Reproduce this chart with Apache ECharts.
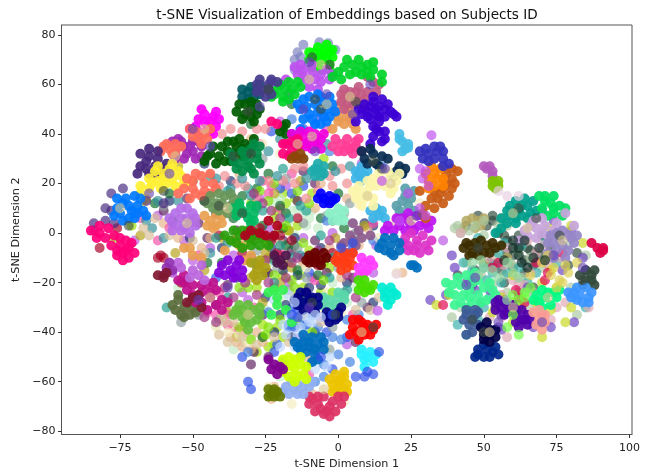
<!DOCTYPE html>
<html><head><meta charset="utf-8">
<style>html,body{margin:0;background:#fff}#c{width:649px;height:472px}</style>
<script src="https://cdn.jsdelivr.net/npm/echarts@6/dist/echarts.min.js"></script></head>
<body><div id="c"></div>
<script>
const xTicks=[-75,-50,-25,0,25,50,75,100];
const yTicks=[-80,-60,-40,-20,0,20,40,60,80];
// loose background points
const bgOrchid=[[-44,-6],[-36,-9],[-24,2],[-12,-2],[-2,0],[5,-8],[12,-16],[-17,-20],[-6,-34],[-31,-27],[20,4],[8,28],[-20,45],[-62,7],[-70,-3],[-50,-11],[3,-45],[-13,-42],[13,-5],[-7,38],[-53,-3],[36,-3],[-18,19],[-27,14],[-9,-18],[-33,-24]];
const bgLime=[[-18,12],[-22,6],[-14,3],[-25,-4],[-10,-7],[-3,-14],[-19,-17],[-12,-22],[-28,-22],[-6,-24],[-35,-42],[-22,-45],[-14,-36],[-28,-48],[-21,-38],[-26,-37],[-71,3],[-77,-2],[-30,12],[-5,30],[-17,-12],[-9,16],[-32,-36],[-19,16],[-15,14],[-21,9],[-17,1],[-26,-42],[-24,-46],[-19,-42],[-8,-8],[-13,-17],[-20,2]];
const bgPale=[[-14,10],[-17,5],[-10,6],[-20,14],[-24,10],[-7,2],[-15,-8],[-13,-14],[-24,-12],[-19,-26],[-11,-38],[-4,-48],[-18,-32],[-2,-20],[6,-22],[-25,-31],[-38,-30],[-42,-37],[-33,-44],[-30,-42],[3,-28],[-36,-47],[-20,-58],[-12,-60],[-55,-22],[14,8],[-12,8],[-16,9],[-9,9],[-19,7],[-22,13],[-11,3],[-15,-1]];
const bgBlueDeep=[[-20,18],[-12,19],[-16,16],[-10,-16],[-4,-40],[-21,-45],[-19,-52],[-31,-60],[-30,-63],[-16,-30],[-14,-31],[-2,-55],[3,-42],[-9,-52],[5,-6],[-33,-50],[18,24],[-42,-18],[-6,47],[-23,41],[-12,42],[-22,-48],[-15,-38],[-17,-37],[-11,-37]];
const bgNavyish=[[-23,-6],[-28,-13],[-14,-17],[-10,-22],[-18,-29],[-20,-33],[-25,-16],[-6,-6],[-16,-42],[-22,-40],[-40,-6],[-35,-18],[-51,-2],[-42,8],[12,-28],[3,-20],[-8,-40],[-37,21],[-46,28],[-70,8],[-58,13],[-2,5],[9,4],[12,3],[-15,-2],[-19,-15],[-6,-21],[-25,-26]];
const bgPlum=[[-30,-10],[-22,-10],[-16,-7],[-8,-3],[1,-5],[5,-18],[-26,-33],[-38,-21],[-42,-29],[-30,-53],[-29,-48],[-24,-50],[-4,-16],[-45,-2],[-48,4],[-60,9],[-52,14],[-35,1],[-14,13],[-8,20],[-12,25],[10,-30],[6,-44],[-19,-3],[-24,-16],[-12,-10]];
const bgPeach=[[-60,4],[-55,-2],[-47,-6],[-44,-2],[-34,-2],[-20,-4],[-12,-12],[-3,-6],[1,-18],[-36,-38],[-32,-40],[-28,-40],[-35,-44],[-26,-44],[-22,-62],[-9,-65],[-11,-50],[7,-5],[22,-16],[-34,24],[-6,20],[-8,10],[-30,38],[3,14],[10,2],[-37,-42],[-33,-46],[-23,-67],[-30,-47]];
const bgGold=[[-40,-2],[-32,-5],[-25,-8],[-17,1],[-6,-11],[-1,-2],[-22,-22],[-30,-18],[-35,-32],[-26,-28],[-15,-26],[-9,-30],[-46,-15],[-38,-32],[9,3],[-50,5],[-68,-1],[-22,16],[-13,21],[-55,27],[-56,-8],[-24,-10],[-20,-20],[-16,-14]];
const bgPink=[[-68,6],[-62,-3],[-58,2],[-48,-9],[-41,-24],[-38,-37],[-34,-39],[-29,-30],[-20,-8],[-8,-19],[-1,-30],[2,-12],[-20,10],[-24,16],[-26,21],[-16,24],[-3,12],[-48,-31],[-45,-32],[-10,-57],[5,-33],[12,4],[-4,42],[4,46],[-27,36],[-42,-33],[-38,-33],[-28,10],[-23,19]];
const bgDarkGreen=[[-33,15],[-28,18],[-24,24],[-22,-1],[-26,3],[-18,-5],[-10,-10],[-4,-10],[-36,6],[-46,13],[-50,21],[-58,16],[-63,12],[-18,8],[-7,-17],[-12,-27],[-40,-12],[-26,-42],[-14,-15],[-6,6],[0,16],[-2,27],[-16,52],[-30,44],[2,2],[-45,-12],[-20,11],[-23,-2],[-15,-5],[-19,2]];
const bgGrey=[[-30,5],[-14,-6],[-28,-7],[-12,4],[-4,7],[2,8],[6,0],[0,-14],[-5,-28],[-3,-47],[-8,-47],[-2,-38],[2,-24],[8,-28],[-48,-33],[-41,-35],[-54,-36],[-13,-34],[-11,-18],[4,12],[13,10],[-26,30],[-18,22],[-60,11],[6,35],[-6,-13],[-21,-14],[-17,-23]];
const bgRedDark=[[-41,-1],[-36,-3],[-30,-2],[-27,2],[-26,-1],[-23,-3],[-20,-1],[-14,6],[-16,-3],[-7,-13],[-21,-8],[-2,-8],[-33,-8],[-52,-19],[-76,2],[-82,-6],[-54,-20],[-60,-10],[-61,-9],[-62,-10],[-28,-1],[-31,0]];
const bgTeal=[[-26,9],[-34,11],[-22,-11],[-16,-10],[-2,-10],[3,-23],[-10,-26],[-42,-2],[-38,-26],[-31,18],[-44,23],[-38,17],[-12,30],[8,33],[-30,1],[-3,-18],[-20,-5],[-29,-12],[-19,26],[-11,9],[-6,-1],[5,-3],[-59,-30],[-17,6],[-13,11]];
const bgBlueMid=[[-17,-38],[-12,-37],[-16,-37],[-9,-33],[-7,-38],[-5,-58],[0,-49],[-2,-42],[4,-52],[-13,-50],[-8,-60],[-31,-48],[-13,-45],[3,-35],[7,-33],[-13,-29],[-24,-32],[-16,46],[-8,44],[-17,36],[-3,33],[15,27],[22,24],[-4,5],[12,-3],[-5,-53],[1,-43]];
const bgCream=[[20,-16],[19,4],[7,12],[14,-2],[12,-13],[-4,-24],[-2,-30],[1,-32],[-11,-14],[-5,-32],[-42,-38],[-34,-41],[-24,-62],[-16,-69],[-1,-72],[2,-68],[25,14],[28,12],[31,6],[-20,32],[-26,36],[-38,-40],[-31,-44]];
// extra gap fillers, left landmass
const fillLime=[[-22,20],[-14,17],[-10,12],[-24,13],[-27,17],[-18,3],[-12,-4],[-5,-19],[-22,-17],[-16,-19],[-31,-22],[-34,-22],[-24,-38],[-20,-35],[-34,-38],[-30,-43],[-9,-40],[-25,-41],[-5,-12],[-15,-22],[-2,-24]];
const fillRose=[[-39,23],[-41,19],[-35,20],[-32,19],[-28,14],[-24,21],[-19,21],[-11,14],[-15,20],[-7,17],[-2,19],[3,20],[1,26],[-3,23],[-15,26],[-25,42],[-37,42],[-33,41],[-40,40],[-28,42],[-12,27]];
const fillTeal=[[-42,22],[-37,18],[-33,22],[-30,15],[-27,21],[-21,23],[-11,22],[-1,25],[4,27],[-4,36],[-24,33],[-20,38],[-44,-8],[-38,-4],[-60,-2],[-64,2],[-66,5],[-62,13],[-55,13],[-22,-20],[-13,-9]];
const fillTan=[[-65,-1],[-67,2],[-63,6],[-58,-1],[-50,-3],[-46,-8],[-40,-34],[-36,-36],[-41,-41],[-39,-36],[-33,-42],[-28,-45],[-22,-42],[-17,-44],[-12,-33],[-6,-36],[6,-31],[11,-31],[14,-26],[-38,-44]];
const fillBerry=[[-29,16],[-26,12],[-23,9],[-20,6],[-16,-12],[-11,-24],[-7,-7],[-3,-3],[3,-17],[6,-26],[-24,-20],[-18,-18],[-14,-10],[-28,-25],[-36,-26],[-32,-20],[-42,-36],[-46,-34],[-39,-22],[-25,-11]];
// right landmass loose points
const rbDark=[[44,3],[48,7],[53,5],[57,-1],[58,-8],[62,-3],[65,-6],[60,-14],[64,-16],[67,-13],[56,-15],[52,-12],[47,-15],[41,-17],[70,-1],[73,-6],[69,-9],[79,-13],[82,-8],[57,-20],[62,-24],[54,-30],[67,-22],[49,-28],[46,-21],[60,-9],[64,-11],[58,-3],[62,-1],[66,-7],[51,3],[53,7],[55,0]];
const rbKhaki=[[46,6],[48,5],[44,5],[50,6],[47,2],[49,3],[43,2],[55,-12],[58,-10],[50,-12]];
const rbSage=[[47,3],[40,2],[50,-1],[55,3],[58,3],[60,-5],[55,-10],[62,-8],[66,-10],[63,-18],[58,-24],[66,-29],[53,-21],[49,-17],[44,-12],[42,-30],[39,-34],[60,-13],[70,-14],[74,-10],[80,-22],[82,-33],[79,-5],[85,-9],[59,-12],[57,-17],[53,-7],[50,5],[56,6],[41,3],[42,0],[45,1]];
const rbCyan=[[48,-2],[43,-12],[46,-18],[53,-16],[55,-8],[58,-16],[62,-14],[68,-16],[71,-4],[63,-5],[57,-4],[52,-26],[48,-35],[41,-37],[44,-41],[50,-30],[60,-32],[65,-20],[75,-12],[81,-26],[85,-30],[46,-15],[50,-14],[54,-13],[51,-19],[56,-20]];
const rbRose=[[42,0],[52,-10],[57,-13],[62,-20],[66,-16],[68,-8],[72,-13],[76,-10],[56,-25],[59,-28],[62,-29],[67,-24],[75,-30],[78,-28],[73,-35],[56,-34],[58,-42],[52,-34],[86,-30],[58,-6],[65,-3],[70,-5],[62,-23],[64,-21],[60,-19]];
const rbPurple=[[39,-9],[40,-14],[44,-20],[47,-23],[52,-23],[55,-38],[56,-39],[65,-22],[67,-38],[73,-38],[81,-36],[84,-10],[85,-15],[77,-15],[80,1],[74,5],[70,9],[56,-33],[57,-27],[31.6,-27],[37,-25]];
const rbLimeY=[[53,-32],[60,-36],[63,-30],[66,-33],[70,-20],[75,-22],[80,-30],[84,-4],[72,2],[80,3],[65,6],[60,-17],[73,-15],[33.7,-29],[38,-25],[55,-29],[68,-28],[78,-36],[70,-42],[73,-31],[58,-30],[60,-28],[63,-27],[56,-26]];
const rbRed=[[53,-14],[55,-12],[71,-19],[72,-16],[68,-12],[62,-26],[61,-23],[77,-8],[70,-33],[64,-28],[36,-29]];
// named colour clusters: left landmass, top
const limeTop=[[-6,72],[-9,71],[-3,73],[-7,75],[-4,70],[-8,69],[-5,74],[-2,71],[-10,73],[-7,68],[-3,68],[-5,72],[-8,73],[-6,70],[-2,74],[-10,70],[-4,76],[-6,66],[-9,67],[-3,66]];
const limeTopRim=[[-6.5,77],[-3.5,76.6],[-14,73],[-15,70],[-13,66],[-1,74],[-12,76],[-13,71],[-15,66]];
const violetTop=[[-9,65],[-12,66],[-6,64],[-9,68],[-14,64],[-11,62],[-6,61],[-3,62],[-13,68],[-4,66],[-8,62],[-12,63],[-15,67],[-10,59],[-7,58],[-2,64],[-17,56],[-20,60],[-23,61],[-18,62]];
const azureTop=[[-8,52],[-5,53],[-11,51],[-7,49],[-4,50],[-12,54],[-2,52],[-5,47],[-3,47],[-9,46],[-14,52],[-7,56],[-10,55],[-13,50],[-6,55],[-10,48],[-3,55],[-8,44],[-6,44],[-12,46],[-16,40],[-13,42],[-4,45],[-1,49]];
const orangeTop=[[1,52],[-1,49],[3,47],[0,45],[5,44],[2,55],[-2,42],[3,50],[0,47],[5,48],[2,44],[6,42]];
const roseTop=[[5,52],[8,51],[3,55],[6,57],[9,54],[1,53],[12,61],[10,63],[7,59],[2,58],[14,60],[3,52],[6,54],[8,56],[4,57],[10,57],[2,50],[9,50],[1,56],[13,57]];
const greenTop=[[5,68],[8,67],[2,67],[6,65],[10,68],[0,65],[-2,63],[12,66],[3,70],[1,62],[4,64],[8,64],[11,63],[7,70],[10,65],[15,61],[15,64],[12,69]];
const greenSmall=[[-22,56],[-19,55],[-16,58],[-18,58],[-21,58],[-19,53],[-17,54],[-23,55],[-20,60],[-15,56],[-17,61],[-14,61],[-13,59]];
const indigoTop=[[13,50],[10,49],[16,50],[12,53],[9,52],[14,47],[18,49],[11,46],[19,48],[8,48],[14,51],[11,51],[15,54],[13,48],[16,47],[7,50],[17,52],[12,55],[10,47],[20,47],[14,45],[6,45],[12,43],[14,41],[12,39],[15,37],[13,42],[16,41],[16,38],[11,36]];
const tealDark=[[-31,57],[-33,55],[-28,58],[-29,55],[-27,60],[-31,54],[-30,59],[-33,58],[-27,56]];
const indigoSoft=[[-26,58],[-24,60],[-28,60],[-23,56],[-25,55],[-27,62],[-23,62],[-28,57],[-24,58],[-21,61]];
const greenDeepTop=[[-30,50],[-32,48],[-34,52],[-28,52],[-30,47],[-35,49],[-28,48],[-32,52],[-30,53],[-27,50],[-33,46],[-29,45],[-18,44],[-18,40],[-20,41],[-19,43]];
const magentaA=[[-46,45],[-43,47],[-49,43],[-46,48],[-42,43],[-48,41],[-51,42],[-44,41],[-42,49],[-45,43],[-48,46],[-41,46],[-44,45],[-47,50],[-43,40]];
const salmonA=[[-49,41],[-46,40],[-51,42],[-48,38],[-45,38],[-50,39],[-47,36],[-44,42]];
const salmonC=[[-60,35],[-58,34],[-56,36],[-61,33],[-56,33],[-59,36],[-57,32],[-54,35]];
const purpleA=[[-53,35],[-50,33],[-56,32],[-53,30],[-49,30],[-57,37],[-47,31],[-55,38],[-50,37],[-47,35],[-52,32],[-54,37],[-48,37],[-51,35],[-56,30]];
const greenDeepMid=[[-38,33],[-35,35],[-41,31],[-37,29],[-32,36],[-34,38],[-30,35],[-29,38],[-33,31],[-44,32],[-40,35],[-46,29],[-42,28],[-36,32],[-31,32],[-43,35],[-38,37],[-33,34],[-36,37],[-39,29],[-45,31]];
const seaGreen=[[-32,31],[-28,32],[-34,28],[-31,27],[-27,28],[-30,34],[-27,35],[-33,25],[-29,24],[-35,26],[-28,30],[-31,29],[-36,29],[-29,36],[-33,33],[-30,26],[-37,32]];
const indigoLeft=[[-66,29],[-63,27],[-68,27],[-65,24],[-62,30],[-59,28],[-63,24],[-68,32],[-60,26],[-65,31],[-69,24],[-62,33],[-66,26],[-61,24],[-65,34]];
const yellowA=[[-62,21],[-65,18],[-60,24],[-57,22],[-63,25],[-54,23],[-68,16],[-66,14],[-61,18],[-53,20],[-58,26],[-65,22],[-56,19],[-59,20],[-62,27],[-64,20],[-68,19],[-60,22],[-55,25],[-51,21],[-67,13],[-57,28]];
const salmonB=[[-50,21],[-53,18],[-46,20],[-49,16],[-46,17],[-55,16],[-44,24],[-44,16],[-49,24],[-52,22],[-47,23],[-43,20],[-50,18],[-47,15],[-51,14],[-42,18]];
const azureLeft=[[-74,12],[-71,9],[-75,8],[-72,6],[-69,11],[-76,14],[-67,9],[-73,14],[-70,6],[-68,14],[-76,10],[-72,11],[-69,8],[-66,7],[-74,5],[-77,7],[-70,15]];
const indigoFar=[[-84,4],[-80,5],[-77,4],[-78,16],[-74,18],[-66,13],[-60,12],[-57,5],[-84,1],[-78,9],[-80,10]];
const pinkLeft=[[-75,-5],[-73,-7],[-76,-9],[-72,-10],[-75,-2],[-71,-4],[-78,-5],[-70,-8],[-74,-11],[-77,-1],[-73,-3],[-76,-7],[-72,-6],[-74,-8],[-82,3],[-85,1],[-82,0],[-80,-2],[-79,2],[-83,-2]];
const orchidLeft=[[-54,6],[-51,4],[-57,4],[-54,1],[-50,8],[-56,8],[-49,3],[-52,10],[-58,6],[-51,0],[-54,10],[-57,1],[-52,6],[-55,3],[-49,6],[-53,2]];
const oliveGreen=[[-42,12],[-39,15],[-37,11],[-41,9],[-36,14],[-44,15],[-38,8],[-35,9],[-43,10],[-40,12],[-37,16],[-35,12],[-45,12],[-41,16]];
const peach=[[-44,5],[-42,7],[-40,4],[-45,3],[-42,3],[-40,7],[-46,7],[-43,2],[-53,-6],[-50,-9],[-47,-10],[-34,-5],[-30,-9],[-32,-11],[-39,-7],[-51,-6],[-36,-3]];
const greenMid=[[-34,-1],[-31,1],[-37,-3],[-29,-3],[-33,-6],[-36,1],[-26,-2],[-24,-5],[-31,-2],[-27,-5],[-39,-1],[-33,1],[-28,0],[-35,-4],[-30,-5]];
const greenJade=[[-33,9],[-30,11],[-35,7],[-31,6],[-29,8],[-34,12],[-30,4],[-36,10],[-32,8],[-28,11],[-29,5]];
const crimsonMid=[[-30,1],[-24,5],[-27,0],[-21,3],[-22,-1],[-32,-1],[-25,-1]];
const magentaUp=[[-12,39],[-10,37],[-14,38],[-11,35],[-8,40],[-7,36],[-15,36],[-9,34],[-6,38],[-13,41],[-6,34],[-10,41],[-12,36],[-8,37],[-16,40],[-5,40]];
const hotPinkUp=[[-18,36],[-16,33],[-19,32],[-15,31],[-14,35],[-17,31],[-19,36],[-14,38],[-16,37],[-23,45],[-21,44]];
const brownUp=[[-15,31],[-13,32],[-14,30],[-12,30],[-16,30]];
const turquoise=[[-8,26],[-6,25],[-5,27],[-8,23],[-6,23],[-9,25],[-7,28],[-5,24]];
const blueMid=[[-5,14],[-3,15],[-7,14],[-5,12],[-2,13],[-6,16],[-3,12],[-1,14]];
const aquaMid=[[-1,8],[1,7],[-2,5],[0,5],[2,9],[-3,8],[0,10],[2,5]];
const pinkMid=[[1,36],[4,34],[6,35],[3,38],[0,33],[5,32],[7,38],[8,33],[-2,35],[6,37],[2,33],[3,35],[-1,38]];
const navyTeal=[[9,30],[12,32],[15,31],[10,28],[13,28],[8,33],[11,34],[14,27],[17,30],[20,25],[22,24],[21,27],[19,23],[23,26]];
const skyA=[[6,25],[8,27],[6,22],[9,23],[7,24],[10,25],[8,21],[11,9],[14,7],[12,6],[15,9],[13,10],[16,6]];
const creamA=[[14,24],[18,23],[16,19],[20,21],[13,19],[17,25],[12,22],[19,18],[15,21],[10,17],[7,16],[12,14],[8,11],[11,19],[9,14],[5,17],[12,11],[6,14],[10,21],[7,19],[21,24],[18,16]];
const steelA=[[21,9],[24,11],[22,7],[26,9],[25,14],[20,11],[23,15],[22,13],[26,17],[23,18],[21,6],[25,7]];
const purpleMagenta=[[24,5],[21,3],[28,3],[26,1],[30,4],[17,3],[24,8],[31,2],[27,7],[19,1],[22,6],[16,1],[25,3],[29,7],[20,6],[23,1],[32,5]];
const orchidMagenta=[[27,-3],[24,-5],[30,-5],[26,-7],[23,-2],[32,-3],[28,-8],[25,0],[29,-1],[22,-4],[31,-7],[27,-5],[24,-7]];
const blueB=[[18,-5],[15,-4],[21,-7],[18,-8],[16,-7],[19,-2],[21,-4],[16,-2],[14,-6],[19,-9],[25,-13],[27,-14],[26,-13]];
const mauve=[[4,-1],[7,1],[2,-4],[8,-2],[5,4],[11,-1],[3,-8],[5,-3],[6,-5]];
const blueIndigo=[[31,32],[34,33],[29,30],[33,35],[36,33],[31,29],[36,30],[38,28],[36,27],[33,30],[28,33],[35,35],[30,34]];
const orangeA=[[33,24],[31,21],[35,26],[33,19],[30,24],[36,22],[32,27],[34,22],[31,18],[36,19]];
const burntOrange=[[33,17],[36,18],[34,14],[38,15],[32,14],[37,20],[39,22],[39,18],[37,24],[41,25],[40,20],[30,11],[36,12],[29,8],[35,16],[28,17],[30,6],[33,10],[39,26]];
const skyCurl=[[21,40],[22,37],[23,34],[24,36],[22,33],[24,34.5],[21,38]];
const orchidLone=[[32,39.5],[29,22],[31,19],[24,16],[30,25],[28,26],[30,7],[21,5],[15,21],[28,10],[13.5,-31.3]];
// left landmass, middle and low
const maroon=[[-8,-10],[-10,-9],[-6,-11],[-8,-8],[-10,-12],[-6,-13],[-4,-10],[-8,-12],[-11,-11],[-5,-8]];
const orangeRed=[[2,-11],[4,-10],[0,-9],[3,-14],[0,-12],[5,-13],[2,-8],[5,-8],[1,-15],[3,-12],[-1,-11]];
const pinkMag=[[9,-12],[7,-14],[11,-11],[10,-15],[8,-10],[7,-17],[12,-13],[9,-16]];
const greenNeon=[[8,-21],[10,-22],[7,-19],[11,-23],[9,-24],[7,-23],[9,-19],[12,-21]];
const turqCyan=[[16,-24],[18,-27],[15,-22],[19,-24],[17,-29],[20,-25],[16,-26],[18,-22]];
const redCore=[[8,-39],[10,-37],[5,-38],[8,-36],[11,-41],[7,-43],[4,-41],[12,-39],[7,-35],[5,-35],[9,-41],[6,-40],[9,-38],[13,-37]];
const cyanLow=[[9,-51],[8,-47],[11,-48],[12,-52],[9,-54],[8,-49],[13,-49],[10,-50]];
const navyCore=[[-12,-28],[-9,-26],[-14,-26],[-10,-30],[-7,-29],[-12,-31],[-14,-29],[-15,-27],[-8,-32],[-11,-24],[-10,-27],[-13,-24],[-7,-26],[-9,-31]];
const navyTwo=[[-2,-33],[0,-32],[-4,-34],[-1,-35],[1,-30],[-3,-36],[0,-34],[-4,-32]];
const mintCore=[[-3,-27],[0,-26],[-5,-26],[-1,-29],[2,-27],[-6,-29],[2,-25],[-3,-30],[0,-24]];
const blueCore=[[-10,-46],[-7,-45],[-12,-44],[-9,-42],[-6,-42],[-14,-46],[-8,-49],[-5,-47],[-9,-52],[-15,-44],[-11,-48],[-7,-51],[-5,-44],[-12,-41],[-8,-47],[-10,-44],[-13,-47]];
const goldCore=[[0,-60],[2,-58],[-1,-57],[2,-63],[-2,-64],[3,-61],[-3,-59],[0,-65],[2,-56],[0,-62],[-2,-61],[1,-59],[-1,-63],[3,-64]];
const crimsonLow=[[-7,-69],[-3,-70],[-10,-69],[-5,-73],[-1,-72],[-10,-66],[-8,-72],[-5,-66],[1,-69],[-6,-71],[-2,-68],[0,-66],[-4,-72],[-9,-67],[2,-66],[-3,-74],[-7,-66]];
const limeYellow=[[-15,-55],[-13,-53],[-18,-54],[-15,-51],[-12,-57],[-17,-58],[-19,-51],[-15,-60],[-19,-56],[-11,-54],[-16,-53],[-13,-50],[-14,-58],[-17,-50],[-11,-59]];
const periwinkle=[[-15,-63],[-12,-62],[-18,-62],[-14,-65],[-10,-62],[-19,-64],[-12,-65],[-9,-60],[-16,-60],[-14,-61],[-17,-65]];
const oliveLow=[[-23,-65],[-21,-64],[-24,-63],[-22,-66],[-20,-66],[-24,-66],[-22,-63]];
const purpleLow=[[-23,-55],[-20,-54],[-24,-51],[-21,-57],[-19,-55],[-22,-53]];
const greenLeaf=[[-31,-33],[-29,-31],[-33,-31],[-31,-29],[-32,-36],[-28,-35],[-35,-31],[-27,-30],[-31,-39],[-27,-33],[-36,-33],[-30,-36],[-33,-34],[-34,-29]];
const darkOlive=[[-53,-30],[-51,-28],[-55,-27],[-51,-33],[-55,-25],[-49,-32],[-56,-31],[-53,-34],[-50,-30],[-54,-33],[-57,-29]];
const violetRed=[[-47,-24],[-44,-26],[-50,-21],[-53,-20],[-42,-23],[-47,-28],[-40,-27],[-55,-19],[-45,-21],[-50,-25],[-42,-29],[-45,-31],[-40,-31],[-47,-21],[-52,-23],[-43,-20],[-49,-28],[-38,-28],[-44,-24],[-53,-17]];
const purpleDeep=[[-37,-15],[-35,-13],[-40,-13],[-36,-18],[-33,-15],[-39,-17],[-38,-11],[-34,-11],[-41,-16],[-36,-16],[-33,-18]];
const oliveGold=[[-28,-15],[-27,-13],[-30,-12],[-28,-19],[-26,-17],[-29,-17],[-27,-11],[-25,-14]];
const plumDark=[[-20,-11],[-18,-9],[-22,-9],[-19,-13],[-21,-12]];
const orchidSoft=[[-50,-15],[-54,-14],[-47,-13],[-57,-16],[-51,-18],[-48,-17],[-55,-12],[-46,-19]];
const purplePatch=[[-59,-14],[-60,-17],[-58,-12],[-57,-15]];
const maroonSmall=[[-62,-17],[-60,-18],[-59,-16],[-52,-28],[-50,-26],[-48,-25],[-47,-30]];
const blueSky=[[-15,-28],[-17,-33],[-13,-38],[-22,-27],[-11,-34],[-8,-33],[-18,-41],[-14,-41],[-4,-54],[-8,-55],[-3,-50],[-20,-46],[-15,-46],[-17,-25],[-10,-36],[-16,-35],[-6,-34],[-19,-37],[-9,-36]];
const greenBright=[[-21,-26],[-24,-24],[-19,-23],[-21,-29],[-23,-33],[-16,-36],[-18,-31],[-22,-23]];
const blueLeft=[[1,-6],[5,-4],[-2,-33],[-6,-50],[10,-56],[9,-58],[12,-57],[6,-58],[14,-48],[-14,-34],[-16,-33]];
// right landmass clusters
const tealBig=[[62,9],[59,7],[65,11],[61,13],[58,4],[65,6],[68,9],[61,4],[56,2],[59,11],[64,14],[67,13],[63,7],[60,9],[66,8],[58,9],[63,11],[61,6],[56,6],[54,0]];
const greenVivid=[[71,13],[73,12],[76,11],[70,10],[74,8],[77,7],[72,7],[74,15],[69,15],[78,10],[71,15],[74,10]];
const lilac=[[68,2],[71,3],[65,-1],[74,1],[68,-2],[64,1],[70,6],[78,8],[72,-1],[66,3],[70,0],[75,4],[67,5],[62,-3],[81,3]];
const periwinkleR=[[76,-3],[73,-1],[79,-1],[75,-7],[72,-4],[77,1],[81,-4],[79,-7],[72,-8],[74,-4],[82,-1],[77,-5],[74,-10],[78,-10],[80,-2],[75,0]];
const darkBrown=[[48,-6],[45,-5],[51,-5],[43,-6],[49,-3],[46,-8],[54,-6],[44,-4],[52,-8],[56,-5],[47,-4],[50,-8],[53,-4],[45,-9],[48,-9]];
const mint=[[45,-23],[42,-21],[48,-25],[44,-17],[50,-22],[40,-25],[46,-28],[52,-20],[39,-21],[54,-25],[42,-28],[48,-19],[38,-24],[51,-27],[46,-20],[43,-25],[49,-28],[53,-23],[40,-29],[44,-30],[47,-16],[45,-26],[41,-18],[37,-20]];
const springGreen=[[71,-26],[69,-28],[74,-24],[70,-23],[68,-25],[73,-29],[76,-23],[72,-24],[75,-26],[70,-30],[67,-27]];
const indigoR1=[[56,-30],[54,-31],[58,-32],[55,-27],[60,-29],[54,-28],[57,-33],[59,-30],[57,-28],[61,-31]];
const indigoR2=[[63,-35],[61,-36],[65,-33],[62,-38],[65,-37],[63,-31],[64,-35],[61,-33],[66,-35]];
const slateBlue=[[45,-37],[47,-33],[44,-33],[46,-40],[48,-37],[44,-31],[47,-31],[44,-41],[43,-35],[46,-35],[48,-32]];
const navyR=[[52,-39],[50,-41],[54,-42],[52,-44],[50,-43],[51,-36],[54,-39],[49,-38],[52,-41]];
const blueR=[[51,-47],[48,-49],[54,-46],[50,-50],[48,-47],[55,-49],[50,-45],[53,-48],[52,-50],[47,-50]];
const salmonR=[[69,-35],[67,-32],[71,-33],[70,-39],[68,-37],[69,-31],[71,-36]];
const dodgerR=[[83,-25],[80,-26],[86,-26],[82,-22],[84,-28],[87,-24],[79,-24],[85,-22],[82,-27],[81,-24],[86,-28]];
const darkSlate=[[87,-17],[85,-15],[88,-21],[85,-19],[88,-15],[83,-17],[87,-19],[84,-21]];
const yellowR=[[76,-19],[73,-17],[79,-16],[75,-22],[70,-12],[82,-12],[66,-17],[72,-9],[78,-13],[74,-14],[77,-20]];
const crimsonR=[[87,-4],[89,-6],[91,-7],[90,-8],[91,-6]];
const limeR=[[54,20],[53,21],[55,21],[53,19],[54,18],[55,19]];
const orchidR=[[50,27],[52,27],[53,25],[53,23],[51,26]];
const blackR=[[57,-11],[62,-9],[65,-14],[60,-6],[67,-10],[64,-3],[69,-6],[71,-11],[63,-12],[60,-3],[62,-6]];
const seafoam=[[55,-18],[58,-12],[60,-16],[49,-11],[50,-14],[46,-12],[48,-17],[62,-18],[65,-24],[58,-27],[53,-15]];
const pale=[[20,-16.5],[55,17],[58,15],[62,15]];
const limeSpring=[[60,-25],[62,-27],[64,-24],[60,-33],[62,-41],[58,-38],[64,-26],[66,-22]];
// speckles drawn over the blobs
const speckDark=[[-8,54],[-6,50],[-24,58],[-31,49],[-46,13],[-41,11],[-33,8],[-60,17],[-72,3],[-30,32],[-36,31],[-9,-28],[-1,-33],[12,-38],[48,-6],[62,10],[76,-1],[84,-19],[50,-40],[46,-35],[68,6],[15,26],[12,29],[6,53],[-3,68],[-9,71]];
const speckPale=[[-6,68],[-10,62],[-4,52],[4,55],[-46,42],[-56,31],[-38,10],[-52,4],[-75,10],[-14,36],[-9,39],[-44,-26],[-31,-33],[8,-40],[-5,-63],[52,-40],[60,-30],[72,-26],[65,2],[77,-3],[60,8],[25,5],[18,20],[10,15]];
const speckPurple=[[-10,69],[-12,50],[-4,56],[11,60],[-27,51],[-50,42],[-44,35],[-58,24],[-65,16],[-8,33],[-48,-27],[-38,-22],[-10,-30],[5,48],[16,26],[27,7],[44,-21],[47,-18],[55,-36],[74,-9],[84,-14],[70,-36]];
// every series: colour, points, opacity (drawn in order)
const loose=0.68,solid=0.92;
const seriesTable=[
['#ba55e0',bgOrchid,loose],['#9be000',bgLime,loose],['#c6ecc8',bgPale,loose],['#2a50e8',bgBlueDeep,loose],['#1c2f6e',bgNavyish,loose],['#5a1f5c',bgPlum,loose],['#e8b48a',bgPeach,loose],['#b5a018',bgGold,loose],['#f54fa8',bgPink,loose],['#0d6b2a',bgDarkGreen,loose],['#8fa0a0',bgGrey,loose],['#a80025',bgRedDark,loose],['#1f9e8f',bgTeal,loose],['#3f7fe0',bgBlueMid,loose],['#f3ecc0',bgCream,loose],
['#7de000',fillLime,loose],['#f08a90',fillRose,loose],['#2f8f98',fillTeal,loose],['#d9bf9a',fillTan,loose],['#a03080',fillBerry,loose],
['#2d4a3c',rbDark,loose],['#b5a860',rbKhaki,0.85],['#a9c9a0',rbSage,loose],['#35b0a8',rbCyan,loose],['#e0a8b4',rbRose,loose],['#6a3fc0',rbPurple,loose],['#c8d820',rbLimeY,loose],['#e00050',rbRed,loose],
['#7a80c0',limeTopRim,loose],['#00ff00',limeTop,solid],['#be50f0',violetTop,solid],['#e89a50',orangeTop,solid],['#0078ff',azureTop,solid],['#c35a82',roseTop,solid],['#00d228',greenTop,solid],['#00d228',greenSmall,solid],['#3c00d2',indigoTop,solid],['#005a64',tealDark,solid],['#463c8c',indigoSoft,solid],['#005a00',greenDeepTop,solid],
['#ff00ff',magentaA,solid],['#a028b4',purpleA,solid],['#ff6e5a',salmonA,solid],['#ff6e5a',salmonC,solid],['#005a00',greenDeepMid,solid],['#008c46',seaGreen,solid],['#46287d',indigoLeft,solid],['#fff032',yellowA,solid],['#ff6e5a',salmonB,solid],['#46287d',indigoFar,loose],['#0078ff',azureLeft,solid],['#ff0078',pinkLeft,solid],['#b46ee6',orchidLeft,solid],['#e8a050',peach,solid],['#69965a',oliveGreen,solid],['#28a00a',greenMid,solid],['#00b860',greenJade,solid],['#b00020',crimsonMid,solid],['#f000dc',magentaUp,solid],['#ff0078',hotPinkUp,solid],['#8c460a',brownUp,solid],['#1eaaaa',turquoise,solid],['#0000ff',blueMid,solid],['#8cf0c8',aquaMid,solid],['#ff3c96',pinkMid,solid],
['#3cb4e6',skyA,solid],['#0a2d50',navyTeal,solid],['#fbf5aa',creamA,solid],['#5aa0aa',steelA,solid],['#be14f0',purpleMagenta,solid],['#dc32c8',orchidMagenta,solid],['#006ebe',blueB,solid],['#8c5a8c',mauve,solid],['#c85a14',burntOrange,solid],['#ff8200',orangeA,solid],['#3232be',blueIndigo,solid],['#46bee6',skyCurl,solid],['#c050f0',orchidLone,loose],
['#690000',maroon,solid],['#ff3c14',orangeRed,solid],['#ff3cff',pinkMag,solid],['#46dc00',greenNeon,solid],['#00ebd2',turqCyan,solid],['#ff0000',redCore,solid],['#28f0ff',cyanLow,solid],['#5ad7aa',mintCore,solid],['#000082',navyCore,solid],['#000082',navyTwo,solid],['#c0d8ff',blueSky,loose],['#32f050',greenBright,solid],['#006ebe',blueCore,solid],['#ebc300',goldCore,solid],['#dc3264',crimsonLow,solid],['#91aff0',periwinkle,solid],['#cdff00',limeYellow,solid],['#647800',oliveLow,solid],['#800090',purpleLow,solid],['#64be3c',greenLeaf,solid],['#5a6e3c',darkOlive,solid],['#be0f8c',violetRed,solid],['#bb66dd',orchidSoft,solid],['#9030b0',purplePatch,solid],['#8200dc',purpleDeep,solid],['#aaa014',oliveGold,solid],['#50144a',plumDark,solid],['#801830',maroonSmall,solid],['#3050e8',blueLeft,loose],
['#00a08c',tealBig,solid],['#00e060',greenVivid,solid],['#c8a5dc',lilac,solid],['#9687c8',periwinkleR,solid],['#3c2d00',darkBrown,solid],['#3cf591',mint,solid],['#00fa82',springGreen,solid],['#5000aa',indigoR1,solid],['#5000aa',indigoR2,solid],['#3c5a96',slateBlue,solid],['#00288c',blueR,solid],['#000046',navyR,solid],['#faa096',salmonR,solid],['#324b3c',darkSlate,solid],['#3c96ff',dodgerR,solid],['#dcd250',yellowR,loose],['#dc0046',crimsonR,solid],['#b45abe',orchidR,solid],['#7dc300',limeR,solid],['#0a2a24',blackR,loose],['#8fd4a0',seafoam,loose],['#e8d0e0',pale,loose],['#70ff40',limeSpring,loose],
['#3a4a40',speckDark,0.6],['#d8c890',speckPale,0.6],['#6040b8',speckPurple,0.6]
];
const chart=echarts.init(document.getElementById('c'),null,{renderer:'canvas'});
const minus=v=>String(v).replace('-','\u2212');
const font='DejaVu Sans';
chart.setOption({
animation:false,
title:{text:'t-SNE Visualization of Embeddings based on Subjects ID',left:342,top:3,textAlign:'center',textStyle:{fontFamily:font,fontSize:13.6,fontWeight:'normal',color:'#111'}},
grid:{left:61.5,right:17,top:25,bottom:37.5,outerBoundsMode:'none',show:true,borderColor:'#555',borderWidth:1,backgroundColor:'#fff'},
xAxis:{type:'value',min:-95.1,max:100.9,splitLine:{show:false},axisLine:{show:true,onZero:false,lineStyle:{color:'#555'}},
axisTick:{show:true,length:3.5,lineStyle:{color:'#333'},customValues:xTicks},
axisLabel:{customValues:xTicks,formatter:minus,fontFamily:font,fontSize:11,color:'#222',margin:8},
name:'t-SNE Dimension 1',nameLocation:'middle',nameGap:23,nameTextStyle:{fontFamily:font,fontSize:11.2,color:'#222'}},
yAxis:{type:'value',min:-81.3,max:84,splitLine:{show:false},axisLine:{show:true,onZero:false,lineStyle:{color:'#555'}},
axisTick:{show:true,length:3.5,lineStyle:{color:'#333'},customValues:yTicks},
axisLabel:{customValues:yTicks,formatter:minus,fontFamily:font,fontSize:11,color:'#222',margin:6},
name:'t-SNE Dimension 2',nameLocation:'middle',nameGap:36,nameTextStyle:{fontFamily:font,fontSize:11.2,color:'#222'}},
series:seriesTable.map(([color,data,opacity])=>({type:'scatter',data,symbolSize:10,silent:true,itemStyle:{color,opacity}}))
});
</script></body></html>
